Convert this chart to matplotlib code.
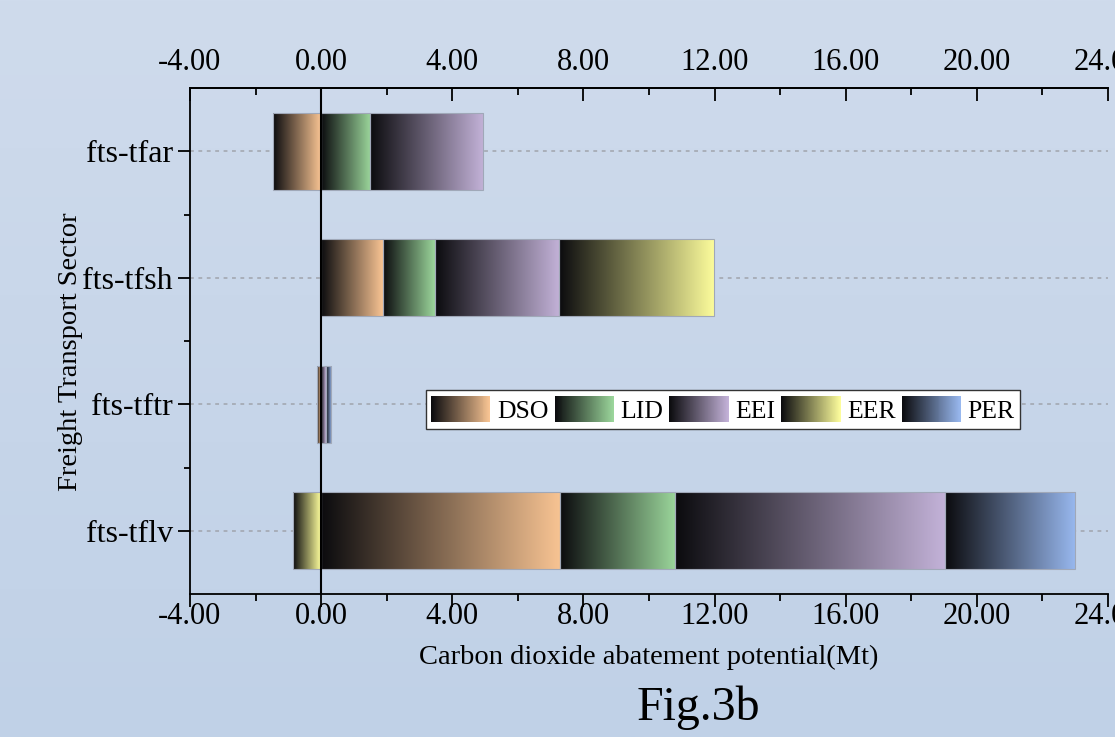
import numpy as np
import matplotlib
matplotlib.use("Agg")
import matplotlib.pyplot as plt
from matplotlib.colors import LinearSegmentedColormap
from matplotlib.patches import Rectangle, Patch
from matplotlib.legend_handler import HandlerBase
from matplotlib.ticker import MultipleLocator, FixedLocator, FormatStrFormatter

plt.rcParams["font.family"] = ["Liberation Serif", "DejaVu Serif"]

# ---- data -------------------------------------------------------------
sectors = ["fts-tfar", "fts-tfsh", "fts-tftr", "fts-tflv"]
series = ["DSO", "LID", "EEI", "EER", "PER"]
dso = [-1.46, 1.88, -0.12, 7.29]
lid = [1.50, 1.58, 0.00, 3.51]
eei = [3.45, 3.80, 0.14, 8.23]
eer = [0.00, 4.73, 0.00, -0.85]
per = [0.00, 0.00, 0.16, 3.97]
values = [dso, lid, eei, eer, per]

x_ticks = [-4, 0, 4, 8, 12, 16, 20, 24]

# ---- styling ------------------------------------------------------------
light_colors = ["#f8c493", "#9bd69b", "#c3b2d8", "#fdfd9c", "#98b8ef"]
dark_color = "#0b0b0e"
cmaps = [LinearSegmentedColormap.from_list(n, [dark_color, c])
         for n, c in zip(series, light_colors)]

W, H, DPI = 1115, 737, 100
fig = plt.figure(figsize=(W / DPI, H / DPI), dpi=DPI)

# soft blue figure background
bg = fig.add_axes([0, 0, 1, 1], zorder=-10)
bg_grad = np.linspace(0, 1, 256).reshape(-1, 1)
bg_cmap = LinearSegmentedColormap.from_list("bg", ["#cfdbec", "#c0d1e7"])
bg.imshow(bg_grad, cmap=bg_cmap, aspect="auto", extent=(0, 1, 0, 1))
bg.set_axis_off()

ax = fig.add_axes([190 / W, 1 - 594 / H, (1108 - 190) / W, (594 - 88) / H])
ax.set_facecolor("none")

y = np.arange(len(sectors))
pos_left = np.zeros(len(sectors))
neg_left = np.zeros(len(sectors))
grad = np.linspace(0, 1, 256).reshape(1, -1)

for name, vals, cmap in zip(series, values, cmaps):
    vals = np.asarray(vals, dtype=float)
    left = np.where(vals >= 0, pos_left, neg_left)
    bars = ax.barh(y, vals, left=left, height=0.61, facecolor="none",
                   edgecolor="#a0a8b8", linewidth=0.8, zorder=3)
    pos_left += np.clip(vals, 0, None)
    neg_left += np.clip(vals, None, 0)
    for b, v in zip(bars, vals):
        if v == 0:
            b.set_visible(False)
            continue
        x0, x1 = sorted([b.get_x(), b.get_x() + b.get_width()])
        y0, y1 = sorted([b.get_y(), b.get_y() + b.get_height()])
        im = ax.imshow(grad, cmap=cmap, extent=(x0, x1, y0, y1),
                       aspect="auto", interpolation="bilinear", zorder=2)
        im.set_clip_path(b)

ax.axvline(0, color="black", linewidth=1.5, zorder=5)

ax.set_xlim(-4, 24)
ax.set_ylim(len(sectors) - 0.5, -0.5)
ax.set_yticks(y)
ax.set_yticklabels(sectors)
ax.yaxis.set_minor_locator(FixedLocator([0.5, 1.5, 2.5]))
ax.yaxis.grid(True, which="major", linestyle=(0, (2.5, 3)), color="#a0a4ac",
              linewidth=1.1)
ax.set_axisbelow(True)

fmt = FormatStrFormatter("%.2f")
ax.set_xticks(x_ticks)
ax.xaxis.set_major_formatter(fmt)
ax.xaxis.set_minor_locator(MultipleLocator(2))

for s in ["left", "bottom", "top"]:
    ax.spines[s].set_linewidth(1.3)
ax.spines["right"].set_visible(False)

ax.tick_params(axis="x", which="major", direction="out", length=9, width=1.3,
               labelsize=22, pad=-3)
ax.tick_params(axis="x", which="minor", direction="out", length=5, width=1.3)
ax.tick_params(axis="y", which="major", direction="out", length=9, width=1.3,
               labelsize=23, pad=3.5)
ax.tick_params(axis="y", which="minor", direction="out", length=4, width=1.3)

top = ax.secondary_xaxis("top")
top.set_xticks(x_ticks)
top.xaxis.set_major_formatter(fmt)
top.xaxis.set_minor_locator(MultipleLocator(2))
top.spines["top"].set_linewidth(1.3)
top.tick_params(axis="x", which="major", direction="in", length=9, width=1.3,
                labelsize=22, pad=8)
top.tick_params(axis="x", which="minor", direction="in", length=5, width=1.3)

ax.set_xlabel("Carbon dioxide abatement potential(Mt)", fontsize=20.5)
ax.xaxis.set_label_coords(0.5, -(645 - 594) / (594 - 88))
ax.set_ylabel("Freight Transport Sector", fontsize=20.5)
ax.yaxis.set_label_coords((83 - 190) / (1108 - 190), 1 - (352 - 88) / (594 - 88))


# gradient swatches in the legend
class GradientHandler(HandlerBase):
    def __init__(self, cmap, steps=60):
        super().__init__()
        self.cmap = cmap
        self.steps = steps

    def create_artists(self, legend, orig_handle, xdescent, ydescent,
                       width, height, fontsize, trans):
        step = width / self.steps
        return [Rectangle((-xdescent + i * step, -ydescent), step * 1.05,
                          height, facecolor=self.cmap(i / (self.steps - 1)),
                          edgecolor="none", transform=trans)
                for i in range(self.steps)]


handles = [Patch(label=n) for n in series]
leg = ax.legend(handles=handles, labels=series,
                handler_map={h: GradientHandler(c) for h, c in zip(handles, cmaps)},
                loc="center", bbox_to_anchor=(723 / W, 1 - 409.5 / H),
                bbox_transform=fig.transFigure, ncol=5, fontsize=18.5,
                frameon=True, fancybox=False, edgecolor="#333333",
                facecolor="white", framealpha=1, handlelength=2.3,
                handleheight=1.2, handletextpad=0.25, columnspacing=0.25,
                borderpad=0.22)
leg.get_frame().set_linewidth(1.0)
leg.set_zorder(6)

fig.text(698 / W, 1 - 720 / H, "Fig.3b", ha="center", va="baseline",
         fontsize=34.5)

fig.savefig("out.png", dpi=DPI)
